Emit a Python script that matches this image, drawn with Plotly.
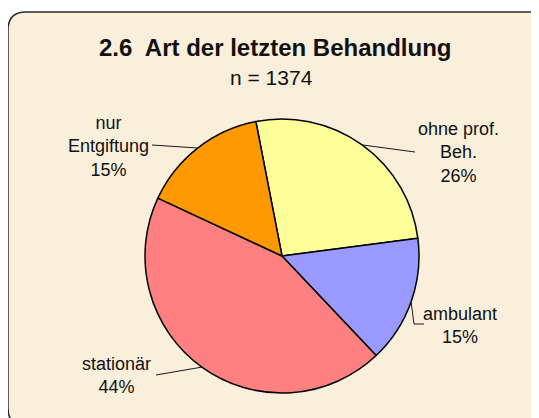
import math
import plotly.graph_objects as go

# ---- data ----
categories = ["ohne prof. Beh.", "ambulant", "stationär", "nur Entgiftung"]
label_lines = ["ohne prof.<br>Beh.", "ambulant", "stationär", "nur<br>Entgiftung"]
values = [26, 15, 44, 15]
colors = ["#FFFF99", "#9999FF", "#FF8080", "#FF9900"]
title_text = "2.6  Art der letzten Behandlung"
subtitle_text = "n = 1374"

# ---- layout constants (page pixels; page body has an 8px margin) ----
PW, PH = 539, 418
OFF = 8
W, H = PW - OFF, PH - OFF
CX, CY, R = 282, 256, 137
ROT = -11  # degrees, clockwise from 12 o'clock

# label anchor positions (text centre) and leader-line label-side points
label_pos = [(458, 152), (460, 325), (116, 375), (108, 146)]
leader_end = [[(415, 152)], [(414, 324), (424, 324)], [(156, 375)], [(152, 145)]]

fig = go.Figure()

fig.add_trace(go.Pie(
    labels=categories,
    values=values,
    sort=False,
    direction="clockwise",
    rotation=ROT,
    marker=dict(colors=colors, line=dict(color="#000000", width=1.5)),
    textinfo="none",
    hoverinfo="label+percent",
    showlegend=False,
    domain=dict(x=[(CX - R - OFF) / W, (CX + R - OFF) / W],
                y=[(PH - CY - R) / H, (PH - CY + R) / H]),
))

# rounded background box
x0, y0, x1, y1, rr = 8, 12, 548, 426, 18
path = (f"M {x0+rr},{y0} L {x1-rr},{y0} Q {x1},{y0} {x1},{y0+rr} "
        f"L {x1},{y1-rr} Q {x1},{y1} {x1-rr},{y1} L {x0+rr},{y1} "
        f"Q {x0},{y1} {x0},{y1-rr} L {x0},{y0+rr} Q {x0},{y0} {x0+rr},{y0} Z")
shapes = [dict(type="path", path=path, xref="x", yref="y", layer="below",
               fillcolor="#FAEFDA", line=dict(color="#2b2b2b", width=1.5))]

# leader lines from slice mid-angles
total = sum(values)
acc = 0
annotations = []
for i, v in enumerate(values):
    mid = ROT + (acc + v / 2) / total * 360
    acc += v
    a = math.radians(mid)
    ex, ey = CX + R * math.sin(a), CY - R * math.cos(a)
    pts = [(ex, ey)] + leader_end[i]
    p = "M " + " L ".join(f"{px:.1f},{py:.1f}" for px, py in pts)
    shapes.append(dict(type="path", path=p, xref="x", yref="y", layer="above",
                       line=dict(color="#1a1a1a", width=1)))
    pct = f"{v / total * 100:.0f}%"
    lx, ly = label_pos[i]
    annotations.append(dict(x=lx, y=ly, xref="x", yref="y", showarrow=False,
                            text=f"{label_lines[i]}<br>{pct}",
                            xanchor="center", yanchor="middle", align="center",
                            font=dict(family="Liberation Sans, Arial, sans-serif",
                                      size=18, color="#111111")))

annotations.append(dict(x=275, y=47, xref="x", yref="y", showarrow=False,
                        text=f"<b>{title_text}</b>", xanchor="center", yanchor="middle",
                        font=dict(family="Liberation Sans, Arial, sans-serif",
                                  size=24, color="#111111")))
annotations.append(dict(x=271, y=77, xref="x", yref="y", showarrow=False,
                        text=subtitle_text, xanchor="center", yanchor="middle",
                        font=dict(family="Liberation Sans, Arial, sans-serif",
                                  size=21, color="#111111")))

fig.update_layout(
    width=W, height=H,
    margin=dict(l=0, r=0, t=0, b=0),
    paper_bgcolor="#FFFFFF",
    plot_bgcolor="rgba(0,0,0,0)",
    xaxis=dict(range=[OFF, PW], visible=False, fixedrange=True, domain=[0, 1]),
    yaxis=dict(range=[PH, OFF], visible=False, fixedrange=True, domain=[0, 1]),
    shapes=shapes,
    annotations=annotations,
)

fig.write_html("out.html")
